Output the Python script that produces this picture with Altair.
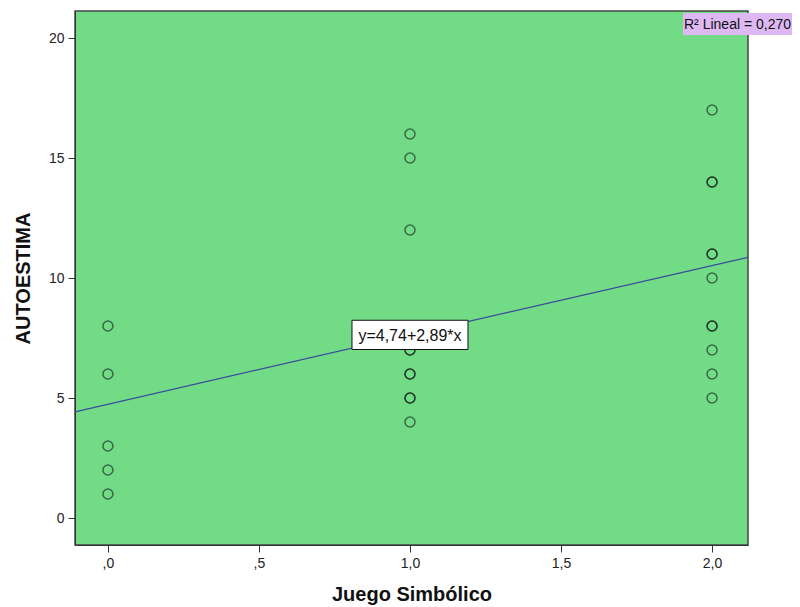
import altair as alt
import pandas as pd

# Data
juego = [0, 0, 0, 0, 0,
         1, 1, 1, 1, 1, 1, 1, 1, 1, 1,
         2, 2, 2, 2, 2, 2, 2, 2, 2, 2, 2]
autoestima = [8, 6, 3, 2, 1,
              16, 15, 12, 7, 7, 6, 6, 5, 5, 4,
              17, 14, 14, 11, 11, 10, 8, 8, 7, 6, 5]
intercept = 4.74
slope = 2.89
r2_label = "R² Lineal = 0,270"
eq_label = "y=4,74+2,89*x"
x_ticks = [0, 0.5, 1, 1.5, 2]
y_ticks = [0, 5, 10, 15, 20]
x_domain = [-0.109, 2.119]
y_domain = [-1.125, 21.125]

pts = pd.DataFrame({"x": juego, "y": autoestima})
line = pd.DataFrame({"x": x_domain,
                     "y": [intercept + slope * v for v in x_domain]})
eq = pd.DataFrame({"x": [1.0], "y": [intercept + slope * 1.0], "t": [eq_label]})

FONT = "Liberation Sans"

xenc = alt.X("x:Q", scale=alt.Scale(domain=x_domain, nice=False, zero=False),
             axis=alt.Axis(values=x_ticks, title="Juego Simbólico",
                           labelExpr="replace(replace(format(datum.value,'.1f'),'.',','),/^0,/,',')",
                           grid=False, tickSize=7, tickColor="#333", domainColor="#333",
                           labelFont=FONT, labelFontSize=14, labelColor="#222",
                           labelPadding=4, titleFont=FONT, titleFontSize=20,
                           titleFontWeight="bold", titleColor="#111",
                           titleBaseline="alphabetic", titleY=55))
yenc = alt.Y("y:Q", scale=alt.Scale(domain=y_domain, nice=False, zero=False),
             axis=alt.Axis(values=y_ticks, title="AUTOESTIMA", grid=False,
                           tickSize=7, tickColor="#333", domainColor="#333",
                           labelFont=FONT, labelFontSize=14, labelColor="#222",
                           labelPadding=4, titleFont=FONT, titleFontSize=20,
                           titleFontWeight="bold", titleColor="#111",
                           titleBaseline="middle", titleX=-52))

points = alt.Chart(pts).mark_point(shape="circle", filled=False, size=100,
                                   stroke="#1a1a1a", strokeWidth=1.5,
                                   strokeOpacity=0.85).encode(x=xenc, y=yenc)

reg = alt.Chart(line).mark_line(color="#3B4A9E", strokeWidth=1.2, clip=True).encode(
    x="x:Q", y="y:Q")

box_shape = "M-1,-0.252L1,-0.252L1,0.252L-1,0.252Z"
eq_box = alt.Chart(eq).mark_point(shape=box_shape, size=116 * 116, filled=True,
                                  fill="white", stroke="#111", strokeWidth=1,
                                  opacity=1).encode(x="x:Q", y="y:Q")
eq_text = alt.Chart(eq).mark_text(font=FONT, fontSize=16, color="#111", dy=1).encode(
    x="x:Q", y="y:Q", text="t:N")

r2_box = alt.Chart(pd.DataFrame({"t": [r2_label]})).mark_rect(
    color="#DDB8F2").encode(x=alt.value(608), x2=alt.value(717),
                            y=alt.value(2), y2=alt.value(24))
r2_text = alt.Chart(pd.DataFrame({"t": [r2_label]})).mark_text(
    font=FONT, fontSize=14, color="#111", align="left", baseline="middle").encode(
    x=alt.value(609), y=alt.value(14), text="t:N")

chart = alt.layer(points, reg, eq_box, eq_text, r2_box, r2_text).properties(
    width=673, height=534,
    autosize=alt.AutoSizeParams(type="none"),
    padding={"left": 67, "top": 3, "right": 44, "bottom": 60},
).configure_view(fill="#71DC85", stroke="#444", strokeWidth=1.5)

chart.save("out.html", embed_options={"renderer": "svg", "actions": False})
